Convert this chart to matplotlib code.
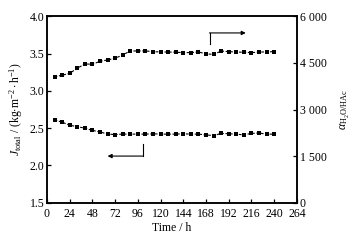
import numpy as np
import matplotlib.pyplot as plt

plt.rcParams['font.family'] = ['Liberation Serif', 'DejaVu Serif']
plt.rcParams['mathtext.fontset'] = 'custom'
plt.rcParams['mathtext.rm'] = 'Liberation Serif'
plt.rcParams['mathtext.it'] = 'Liberation Serif:italic'

time_h = list(range(8, 241, 8))
flux = [2.61, 2.58, 2.54, 2.52, 2.50, 2.47, 2.45, 2.42, 2.415, 2.42,
        2.42, 2.42, 2.42, 2.425, 2.42, 2.42, 2.42, 2.425, 2.42, 2.42,
        2.41, 2.40, 2.43, 2.425, 2.42, 2.41, 2.43, 2.435, 2.42, 2.42]
alpha = [4056, 4100, 4165, 4326, 4465, 4455, 4550, 4593, 4648, 4754,
         4883, 4883, 4883, 4861, 4850, 4850, 4840, 4830, 4830, 4850,
         4790, 4770, 4880, 4860, 4850, 4840, 4830, 4845, 4855, 4860]

x_ticks = list(range(0, 265, 24))
left_ticks = [1.5, 2.0, 2.5, 3.0, 3.5, 4.0]
right_ticks = [0, 1500, 3000, 4500, 6000]
right_labels = ['0', '1 500', '3 000', '4 500', '6 000']

fig = plt.figure(figsize=(3.56, 2.42), dpi=100)
ax = fig.add_axes([0.132, 0.162, 0.702, 0.771])
ax2 = ax.twinx()

style = dict(color='black', linestyle=(0, (2.5, 1.5)), linewidth=0.8,
             marker='s', markersize=2.4, markeredgewidth=0)
ax.plot(time_h, flux, **style)
ax2.plot(time_h, alpha, **style)

ax.set_xlim(0, 264)
ax.set_ylim(1.5, 4.0)
ax2.set_ylim(0, 6000)
ax.set_xticks(x_ticks)
ax.set_yticks(left_ticks)
ax.set_yticklabels(['%.1f' % v for v in left_ticks])
ax2.set_yticks(right_ticks)
ax2.set_yticklabels(right_labels)

for a in (ax, ax2):
    a.tick_params(direction='in', length=3, width=0.9, labelsize=8.5, pad=2)
    for s in a.spines.values():
        s.set_linewidth(1.1)
ax.tick_params(axis='x', pad=4)
# lift the "0" on the right a touch so it clears "264"
ax2.get_yticklabels()[0].set_verticalalignment('center_baseline')

ax.set_xlabel('Time / h', fontsize=8.5, labelpad=1)
ax.set_ylabel(r'$J_{\rm total}$ / (kg$\cdot$m$^{-2}\cdot$h$^{-1}$)', fontsize=8.5, labelpad=3)
ax2.set_ylabel(r'$\alpha_{\rm H_2O/HAc}$', fontsize=8.5, labelpad=9)

# arrows marking which axis each series belongs to
ax2.plot([172, 172], [5108, 5462], color='black', linewidth=0.8)
ax2.annotate('', xy=(210, 5462), xytext=(171.6, 5462),
             arrowprops=dict(arrowstyle='-|>', color='black', lw=0.8,
                             mutation_scale=6, shrinkA=0, shrinkB=0))
ax.plot([101, 101], [2.126, 2.283], color='black', linewidth=0.8)
ax.annotate('', xy=(64, 2.126), xytext=(101.4, 2.126),
            arrowprops=dict(arrowstyle='-|>', color='black', lw=0.8,
                            mutation_scale=6, shrinkA=0, shrinkB=0))

fig.savefig('out.png', dpi=100)
